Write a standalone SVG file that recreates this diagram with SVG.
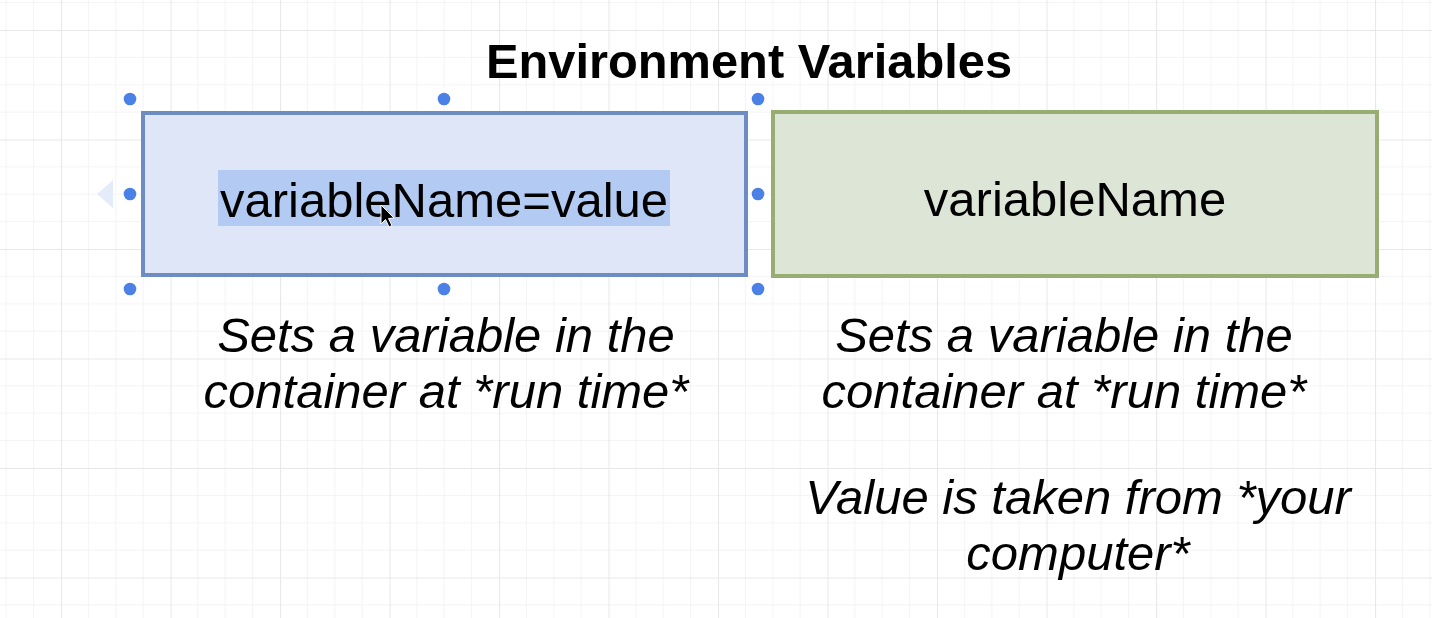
<svg xmlns="http://www.w3.org/2000/svg" width="1432" height="618" viewBox="0 0 1432 618">
<style>
.title{font-family:"Liberation Sans",Arial,sans-serif;font-weight:bold;font-size:48.8px;fill:#000;text-anchor:middle}
.lbl{font-family:"Liberation Sans",Arial,sans-serif;font-size:49px;fill:#000;text-anchor:middle}
.cap{font-family:"Liberation Sans",Arial,sans-serif;font-style:italic;font-size:49px;fill:#000;text-anchor:middle}
.handle{fill:#4b80e6}
</style>
<defs>
<pattern id="grid" patternUnits="userSpaceOnUse" x="61" y="30" width="109.5" height="109.5">
<path d="M27.375 0V109.5M54.75 0V109.5M82.125 0V109.5M0 27.375H109.5M0 54.75H109.5M0 82.125H109.5" stroke="#f3f3f3" stroke-width="1" fill="none"/>
<path d="M0.5 0V109.5M0 0.5H109.5" stroke="#e8e8e8" stroke-width="1.2" fill="none"/>
</pattern>
</defs>
<rect width="1432" height="618" fill="#ffffff"/>
<rect width="1432" height="618" fill="url(#grid)"/>
<text class="title" x="749" y="78">Environment Variables</text>
<g id="node-left">
<rect x="143" y="113" width="603" height="162" fill="#dfe6f8" stroke="#6d8cc2" stroke-width="4"/>
<rect x="218" y="170" width="452" height="56" fill="#b3cbf2"/>
<text class="lbl" x="444" y="217">variableName=value</text>
<path d="M381 205 L381 224 L385.5 219.5 L389 227 L392 225.5 L388.5 218.5 L394 218 Z" fill="#000" stroke="#fff" stroke-width="1"/>
</g>
<g id="node-right">
<rect x="773" y="112" width="604" height="164" fill="#dce5d6" stroke="#97ad72" stroke-width="4"/>
<text class="lbl" x="1075" y="216">variableName</text>
</g>
<g id="selection">
<path d="M113 180 L97 194 L113 208 Z" fill="#e4ebf9"/>
<circle class="handle" cx="130" cy="99" r="6.3"/>
<circle class="handle" cx="444" cy="99" r="6.3"/>
<circle class="handle" cx="758" cy="99" r="6.3"/>
<circle class="handle" cx="130" cy="194" r="6.3"/>
<circle class="handle" cx="758" cy="194" r="6.3"/>
<circle class="handle" cx="130" cy="289" r="6.3"/>
<circle class="handle" cx="444" cy="289" r="6.3"/>
<circle class="handle" cx="758" cy="289" r="6.3"/>
</g>
<g id="caption-left">
<text class="cap" x="446" y="352">Sets a variable in the</text>
<text class="cap" x="446" y="408">container at *run time*</text>
</g>
<g id="caption-right">
<text class="cap" x="1064" y="352">Sets a variable in the</text>
<text class="cap" x="1064" y="408">container at *run time*</text>
<text class="cap" x="1078" y="514">Value is taken from *your</text>
<text class="cap" x="1078" y="570">computer*</text>
</g>
<g id="connectors"></g>
</svg>
